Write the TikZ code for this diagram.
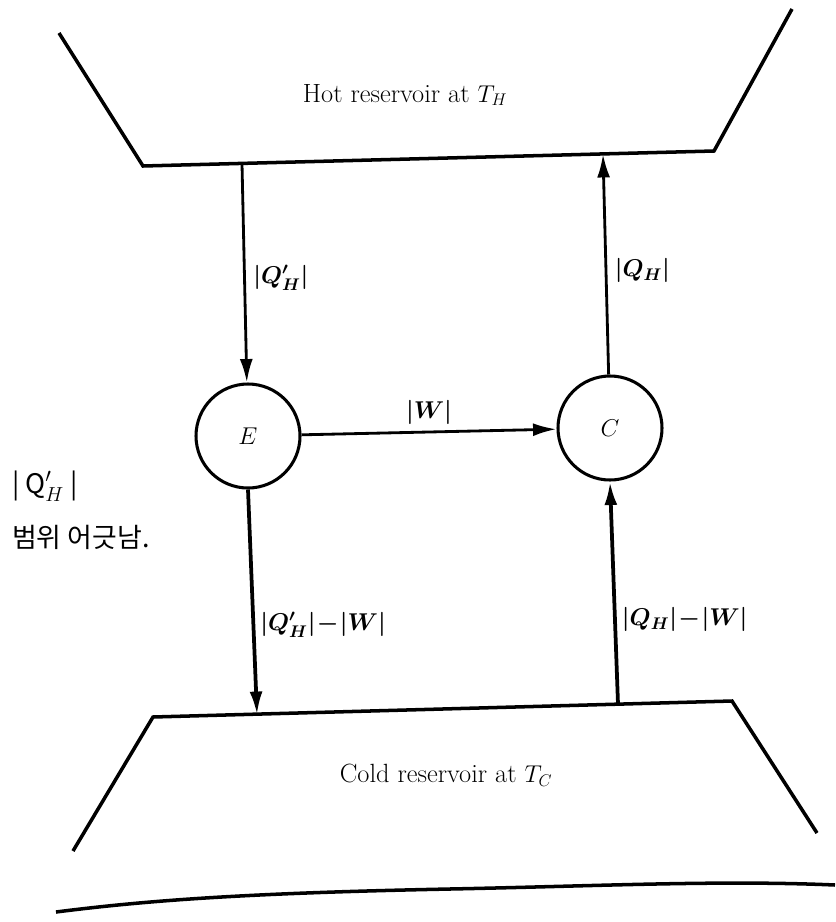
\documentclass[tikz,border=0pt]{standalone}
\usepackage{fontspec}
\usepackage{amsmath}
\usepackage{bm}
\newfontfamily\korean{Noto Sans CJK KR}
\usetikzlibrary{arrows.meta}

\begin{document}
\begin{tikzpicture}[x=0.03cm, y=-0.03cm, font=\fontsize{22.5}{27}\selectfont,
    reservoir/.style={line width=3pt, line join=miter},
    engine/.style={circle, draw, line width=2.6pt, minimum size=3.12cm, inner sep=0pt},
    flow/.style={-{Latex[length=20pt, width=11pt]}, line width=2.4pt},
    heavyflow/.style={flow, line width=3.2pt}]
    \useasboundingbox (0,0) rectangle (835,922);

    % Hot reservoir
    \draw[reservoir] (59,33) -- (143,166) -- (714,151) -- (792,9);
    \node (Hot) at (405,95) {Hot reservoir at $T_H$};
    \coordinate (HotOut) at (242,164);
    \coordinate (HotIn) at (603,154);

    % Cold reservoir
    \draw[reservoir] (73,851) -- (153,717) -- (732,701) -- (817,833);
    \node (Cold) at (446,775) {Cold reservoir at $T_C$};
    \coordinate (ColdIn) at (257,715);
    \coordinate (ColdOut) at (618,704);

    % Engine and refrigerator
    \node[engine] (E) at (248,436) {$E$};
    \node[engine] (C) at (610,428) {$C$};

    % Heat and work flows
    \draw[flow] (HotOut) -- (E) node[pos=0.52, right=3pt] {$\bm{|Q'_H|}$};
    \draw[flow] (E) -- (C) node[midway, above=2pt] {$\bm{|W|}$};
    \draw[flow] (C) -- (HotIn) node[pos=0.47, right=3pt] {$\bm{|Q_H|}$};
    \draw[heavyflow] (E.south) -- (ColdIn) node[pos=0.6, right=1pt] {$\bm{|Q'_H|\!-\!|W|}$};
    \draw[heavyflow] (ColdOut) -- (C.south) node[pos=0.38, right=1pt] {$\bm{|Q_H|\!-\!|W|}$};

    % Handwritten note
    \node[anchor=west, align=left, font=\korean\fontsize{23}{46}\selectfont] (Note) at (8,510) {| Q$'_{H}$ |\\범위 어긋남.};

    % Page edge
    \draw[line width=3pt] (56,912) .. controls (150,900) and (250,893) .. (450,889) .. controls (600,886) and (720,880) .. (835,885);
\end{tikzpicture}
\end{document}
